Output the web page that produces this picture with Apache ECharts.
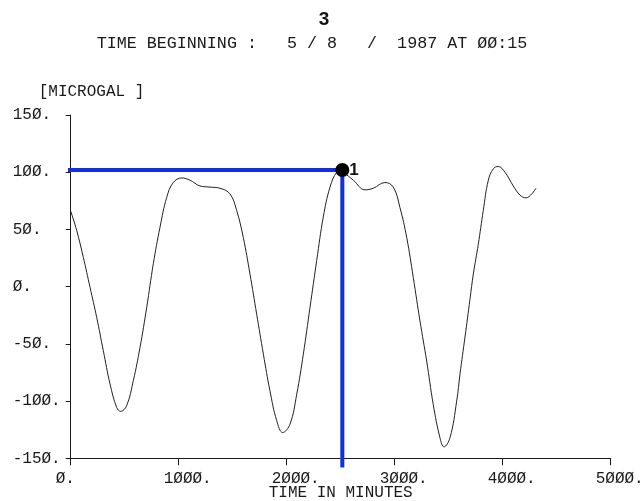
<!DOCTYPE html>
<html>
<head>
<meta charset="utf-8">
<script src="https://cdn.jsdelivr.net/npm/echarts@6/dist/echarts.min.js"></script>
<style>
html,body{margin:0;padding:0;background:#fff;}
#chart{width:643px;height:501px;}
</style>
</head>
<body>
<div id="chart"></div>
<script>
// ---- data ----
const titleText = '3';
const subtitleText = 'TIME BEGINNING :   5 / 8   /  1987 AT ØØ:15';
const yAxisName = '[MICROGAL ]';
const xAxisName = 'TIME IN MINUTES';
const xTickValues = [0, 1000, 2000, 3000, 4000, 5000];
const xTickLabels = ['Ø.', '1ØØØ.', '2ØØØ.', '3ØØØ.', '4ØØØ.', '5ØØØ.'];
const yTickValues = [-150, -100, -50, 0, 50, 100, 150];
const yTickLabels = ['-15Ø.', '-1ØØ.', '-5Ø.', 'Ø.', '5Ø.', '1ØØ.', '15Ø.'];
// time in minutes
const timeMinutes = [0, 56, 117, 179, 241, 302, 364, 426, 463, 518, 580, 642, 704, 765, 827, 889, 950, 1028, 1105, 1197, 1290, 1382, 1475, 1537, 1598, 1660, 1722, 1784, 1845, 1907, 1963, 2031, 2093, 2154, 2216, 2278, 2339, 2401, 2463, 2500, 2524, 2617, 2725, 2802, 2910, 2987, 3049, 3111, 3172, 3234, 3296, 3357, 3419, 3456, 3512, 3574, 3605, 3651, 3697, 3728, 3774, 3820, 3867, 3913, 3959, 4021, 4098, 4160, 4216, 4269, 4308];
// gravity in microgal
const gravity = [66, 49, 25.6, -0.6, -27, -56, -85, -105.6, -109, -104, -82, -53, -18, 20, 52, 78, 91, 95, 93, 88, 87, 86, 81, 66.5, 43, 11, -24, -59, -91, -117, -127.5, -120, -94, -59, -18, 23, 61, 87, 100, 101, 100, 93, 84.6, 86, 91, 87, 69, 43, 8, -30, -65, -103, -132, -140, -132, -100, -76, -44, -11, 11, 37, 66.5, 93, 103, 105, 100, 88, 80, 77.6, 81, 86];
// marked point 1 and its guide lines
const markLabel = '1';
const markX = [2515];
const markY = [102];
const guideX = [-127, 2515, 2515];
const guideY = [102, 102, -158];

// ---- chart ----
const chart = echarts.init(document.getElementById('chart'), null, {renderer: 'canvas'});
const mono = '"Liberation Mono", "DejaVu Sans Mono", monospace';
const ink = '#1a1a1a';

const curveData = timeMinutes.map((t, i) => [t, gravity[i]]);
const guideData = guideX.map((x, i) => [x, guideY[i]]);
const markData = markX.map((x, i) => [x, markY[i]]);

const option = {
  backgroundColor: '#ffffff',
  animation: false,
  title: [
    {
      text: titleText,
      left: 319, top: 5, textAlign: 'center',
      textStyle: {fontFamily: '"Liberation Sans", Arial, sans-serif', fontWeight: 'bold', fontSize: 19, color: '#111'}
    },
    {
      text: subtitleText,
      left: 307, top: 30, textAlign: 'center',
      textStyle: {fontFamily: mono, fontWeight: 'normal', fontSize: 16.7, color: ink}
    }
  ],
  grid: {left: 70.7, right: 32.3, top: 115, bottom: 42.7, containLabel: false, outerBoundsMode: 'none'},
  xAxis: {
    type: 'value', min: 0, max: 5000, interval: 1000,
    name: xAxisName, nameLocation: 'middle', nameGap: 26, nameMoveOverlap: false,
    nameTextStyle: {fontFamily: mono, fontSize: 16, color: ink},
    axisLine: {show: true, onZero: false, lineStyle: {color: ink, width: 1}},
    axisTick: {show: true, inside: false, length: 7, lineStyle: {color: ink, width: 1}},
    splitLine: {show: false},
    axisLabel: {
      fontFamily: mono, fontSize: 16, color: ink, margin: 12, align: 'left',
      padding: [0, 0, 0, -15], hideOverlap: false,
      formatter: v => { const i = xTickValues.indexOf(v); return i >= 0 ? xTickLabels[i] : ''; }
    }
  },
  yAxis: {
    type: 'value', min: -150, max: 150, interval: 50,
    name: yAxisName, nameLocation: 'end', nameGap: 15, nameMoveOverlap: false,
    nameTextStyle: {fontFamily: mono, fontSize: 16, color: ink, align: 'left', padding: [0, 0, 0, -32]},
    axisLine: {show: true, lineStyle: {color: ink, width: 1}},
    axisTick: {show: true, inside: false, length: 5, lineStyle: {color: ink, width: 1}},
    splitLine: {show: false},
    axisLabel: {
      fontFamily: mono, fontSize: 16, color: ink, margin: 58, align: 'left',
      formatter: v => { const i = yTickValues.indexOf(v); return i >= 0 ? yTickLabels[i] : ''; }
    }
  },
  series: [
    {
      name: 'gravity', type: 'line', data: curveData,
      smooth: 0.4, showSymbol: false, symbol: 'none',
      lineStyle: {color: '#222', width: 1}, z: 2
    },
    {
      name: 'guide', type: 'line', data: guideData, clip: false,
      showSymbol: false, symbol: 'none',
      lineStyle: {color: '#1030e0', width: 4}, z: 3
    },
    {
      name: 'mark', type: 'scatter', data: markData, clip: false,
      symbol: 'circle', symbolSize: 14,
      itemStyle: {color: '#000', opacity: 1},
      label: {
        show: true, position: 'right', distance: 0,
        formatter: markLabel,
        fontFamily: '"Liberation Sans", Arial, sans-serif', fontWeight: 'bold', fontSize: 17, color: '#111'
      },
      z: 4
    }
  ]
};
chart.setOption(option);
</script>
</body>
</html>
